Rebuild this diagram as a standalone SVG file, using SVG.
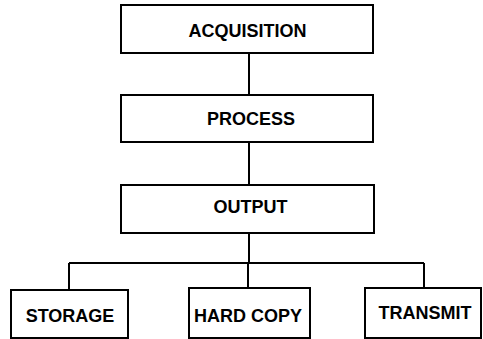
<svg xmlns="http://www.w3.org/2000/svg" width="483" height="339" viewBox="0 0 483 339">
<style>
.box{fill:#fff;stroke:#000;stroke-width:2}
.lbl{font-family:"Liberation Sans",Arial,sans-serif;font-weight:bold;font-size:18px;text-anchor:middle;fill:#000}
.conn{fill:none;stroke:#000;stroke-width:2}
</style>
<rect width="483" height="339" fill="#fff"/>
<g id="connectors">
<path class="conn" d="M249,53 V95 M249,142 V185 M249,233 V263 M69,263 H424 M69,263 V290 M248,263 V288 M424,263 V288"/>
</g>
<g id="acquisition"><rect class="box" x="121" y="5" width="252" height="48"/><text class="lbl" x="247.5" y="36.5">ACQUISITION</text></g>
<g id="process"><rect class="box" x="121" y="95" width="252" height="47"/><text class="lbl" x="251" y="125">PROCESS</text></g>
<g id="output"><rect class="box" x="121" y="185" width="253" height="48"/><text class="lbl" x="250.5" y="213">OUTPUT</text></g>
<g id="storage"><rect class="box" x="11" y="290" width="117" height="48"/><text class="lbl" x="70" y="321.5">STORAGE</text></g>
<g id="hardcopy"><rect class="box" x="189" y="288" width="121" height="50"/><text class="lbl" x="248" y="321.5">HARD COPY</text></g>
<g id="transmit"><rect class="box" x="365" y="288" width="116" height="50"/><text class="lbl" x="425" y="319">TRANSMIT</text></g>
</svg>
